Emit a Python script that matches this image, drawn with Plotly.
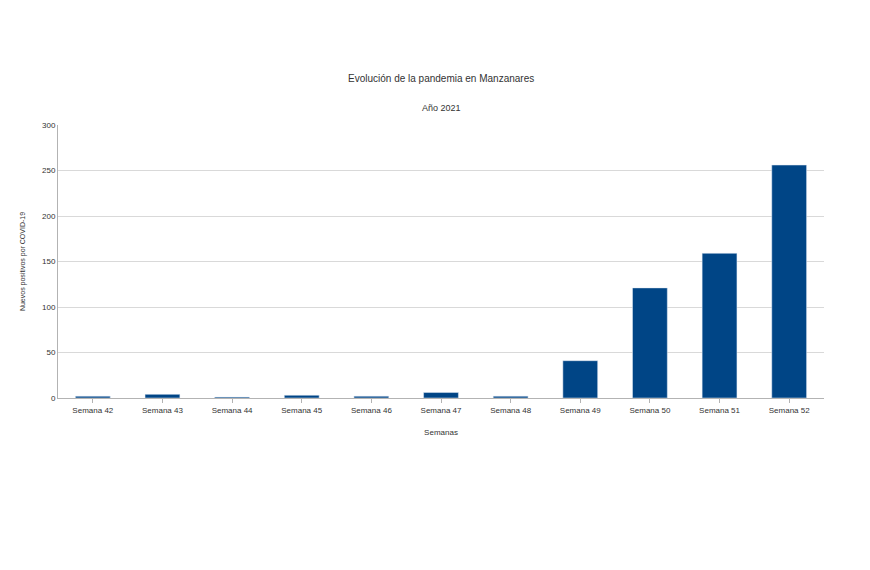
import plotly.graph_objects as go

semanas = ["Semana 42", "Semana 43", "Semana 44", "Semana 45", "Semana 46", "Semana 47",
           "Semana 48", "Semana 49", "Semana 50", "Semana 51", "Semana 52"]
positivos = [2, 4, 1, 3, 2, 6, 2, 41, 121, 159, 256]

fig = go.Figure(go.Bar(x=semanas, y=positivos, marker_color="#004586", width=0.5))

font = "Liberation Sans"
fig.update_layout(
    width=870, height=570,
    plot_bgcolor="white", paper_bgcolor="white",
    font=dict(family=font, size=8, color="#333"),
    margin=dict(l=50, r=54, t=117, b=180),
    annotations=[
        dict(text="Evolución de la pandemia en Manzanares", x=0.5, y=63, xref="paper", yref="paper",
             showarrow=False, font=dict(size=10)),
        dict(text="Año 2021", x=0.5, y=92, xref="paper", yref="paper", showarrow=False,
             font=dict(size=9)),
    ],
    xaxis=dict(title=dict(text="Semanas", font=dict(size=8)), showline=True, linecolor="#b3b3b3",
               ticks="outside", ticklen=4, tickcolor="#b3b3b3"),
    yaxis=dict(title=dict(text="Nuevos positivos por COVID-19", font=dict(size=7)), range=[0, 300],
               dtick=50, gridcolor="#d9d9d9", showline=True, linecolor="#b3b3b3", zeroline=False),
    showlegend=False,
)
# put titles in pixel positions via paper coords
h = 570 - 117 - 180
for a, ypx in zip(fig.layout.annotations, [63, 93]):
    a.y = (570 - 180 - ypx) / h
fig.write_html("out.html")
